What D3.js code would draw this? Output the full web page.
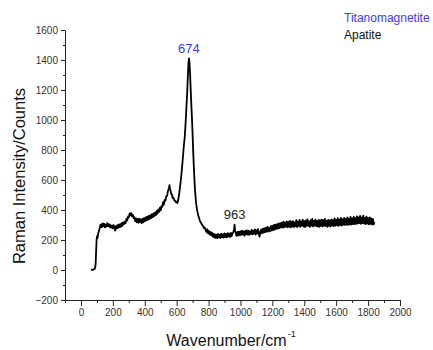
<!DOCTYPE html>
<html>
<head>
<meta charset="utf-8">
<script src="https://cdn.jsdelivr.net/npm/d3@7/dist/d3.min.js"></script>
<style>
  body { margin: 0; background: #fff; }
  svg { font-family: "Liberation Sans", Arial, sans-serif; }
</style>
</head>
<body>
<div id="chart"></div>
<script>
// ------------------------------------------------------------
// Data: [wavenumber (cm-1), counts]
// ------------------------------------------------------------
const spectrum = [
  [63,5],[68,2],[73,0],[78,3],[83,6],[88,10],[92,40],[95,120],[98,200],[101,225],
  [104,212],[107,238],[110,250],[114,265],[118,280],[122,300],[126,285],[130,305],[134,288],[138,310],
  [142,292],[146,308],[150,284],[155,302],[160,290],[165,312],[170,292],[175,306],[180,286],[185,300],
  [190,282],[195,296],[200,278],[205,300],[210,286],[214,262],[218,290],[222,276],[226,298],[230,280],
  [235,302],[240,284],[245,306],[250,288],[255,312],[260,294],[265,318],[270,306],[275,322],[280,312],
  [285,340],[290,330],[295,358],[300,350],[305,376],[310,364],[315,380],[320,358],[325,368],[330,346],
  [335,352],[340,326],[345,344],[350,318],[355,340],[360,314],[365,342],[370,320],[375,338],[380,312],
  [385,340],[390,318],[395,346],[400,324],[405,350],[410,330],[415,356],[420,334],[425,360],[430,340],
  [435,366],[440,346],[445,372],[450,352],[455,378],[460,360],[465,384],[470,366],[475,394],[480,376],
  [485,404],[490,388],[495,416],[500,398],[505,426],[510,422],[515,452],[520,436],[525,468],[530,462],
  [535,492],[540,494],[545,526],[550,540],[555,565],[558,542],[562,528],[566,506],[570,504],[575,480],
  [580,482],[585,464],[590,462],[595,452],[600,456],[605,446],[610,472],[615,500],[620,545],[625,590],
  [630,640],[635,700],[640,760],[645,830],[650,880],[655,960],[660,1060],[665,1160],[670,1290],[674,1380],
  [677,1410],[680,1390],[684,1310],[688,1200],[692,1100],[696,1010],[700,900],[704,780],[708,680],[712,590],
  [716,520],[720,465],[725,420],[730,390],[735,365],[740,348],[745,330],[750,318],[755,310],[760,300],
  [765,294],[770,280],[775,284],[780,270],[785,255],[790,272],[795,246],[800,262],[805,238],[810,254],
  [815,232],[820,250],[825,222],[830,242],[835,216],[840,238],[845,214],[850,236],[855,212],[860,240],
  [865,216],[870,236],[875,214],[880,242],[885,218],[890,238],[895,216],[900,244],[905,220],[910,240],
  [915,218],[920,246],[925,224],[930,242],[935,220],[940,248],[945,226],[950,244],[955,250],[960,272],
  [963,302],[966,262],[970,250],[975,228],[980,254],[985,230],[990,256],[995,232],[1000,258],[1005,234],
  [1010,262],[1015,236],[1020,258],[1025,230],[1030,260],[1035,238],[1040,264],[1045,236],[1050,262],[1055,234],
  [1060,258],[1065,240],[1070,268],[1075,238],[1080,262],[1085,242],[1090,270],[1095,236],[1100,264],[1105,244],
  [1110,272],[1115,240],[1120,222],[1125,256],[1130,270],[1135,244],[1140,276],[1145,250],[1150,278],[1155,252],
  [1160,282],[1165,256],[1170,288],[1175,256],[1180,280],[1185,260],[1190,292],[1195,262],[1200,294],[1205,266],
  [1210,300],[1215,270],[1220,302],[1225,274],[1230,306],[1235,276],[1240,310],[1245,280],[1250,312],[1255,284],
  [1260,316],[1265,282],[1270,322],[1275,286],[1280,316],[1285,290],[1290,324],[1295,284],[1300,320],[1305,288],
  [1310,328],[1315,284],[1320,322],[1325,290],[1330,326],[1335,286],[1340,318],[1345,292],[1350,332],[1355,286],
  [1360,322],[1365,294],[1370,334],[1375,288],[1380,324],[1385,296],[1390,336],[1395,290],[1400,326],[1405,286],
  [1410,330],[1415,294],[1420,338],[1425,294],[1430,324],[1435,288],[1440,332],[1445,296],[1450,340],[1455,290],
  [1460,328],[1465,296],[1470,336],[1475,292],[1480,326],[1485,290],[1490,334],[1495,288],[1500,330],[1505,294],
  [1510,336],[1515,290],[1520,332],[1525,296],[1530,340],[1535,292],[1540,328],[1545,288],[1550,334],[1555,294],
  [1560,330],[1565,290],[1570,338],[1575,296],[1580,332],[1585,292],[1590,344],[1595,296],[1600,334],[1605,298],
  [1610,346],[1615,294],[1620,336],[1625,300],[1630,348],[1635,296],[1640,338],[1645,302],[1650,348],[1655,300],
  [1660,340],[1665,302],[1670,350],[1675,300],[1680,342],[1685,304],[1690,354],[1695,302],[1700,344],[1705,306],
  [1710,354],[1715,306],[1720,346],[1725,308],[1730,358],[1735,310],[1740,350],[1745,312],[1750,360],[1755,308],
  [1760,350],[1765,312],[1770,362],[1775,310],[1780,348],[1785,306],[1790,356],[1795,310],[1800,346],[1805,304],
  [1810,350],[1815,308],[1820,344],[1825,302],[1830,340],[1835,304],[1840,318]
];

// peak annotations: [wavenumber, counts, label, colour]
const peaks = [
  [676, 1410, "674", "#3b3bf0"],
  [963, 302, "963", "#222"]
];

const legendItems = [
  ["Titanomagnetite", "#3b3bf0"],
  ["Apatite", "#111"]
];

const xTicks = [0, 200, 400, 600, 800, 1000, 1200, 1400, 1600, 1800, 2000];
const yTicks = [-200, 0, 200, 400, 600, 800, 1000, 1200, 1400, 1600];

// ------------------------------------------------------------
// Layout
// ------------------------------------------------------------
const width = 433;
const height = 350;
const font = "'Liberation Sans', Arial, sans-serif";

const svg = d3.select("#chart")
  .append("svg")
  .attr("width", width)
  .attr("height", height)
  .attr("font-family", font);

const x = d3.scaleLinear().domain([-100, 2000]).range([65, 400]);
const y = d3.scaleLinear().domain([-200, 1600]).range([300, 30]);

// minor ticks every 100
const xMinor = d3.range(-100, 2001, 100).filter(v => !xTicks.includes(v));
const yMinor = d3.range(-100, 1600, 200);

// ------------------------------------------------------------
// Axes
// ------------------------------------------------------------
svg.append("g")
  .attr("transform", `translate(0,${y(-200)})`)
  .call(d3.axisBottom(x).tickValues(xTicks).tickFormat(d3.format("d"))
    .tickSize(6).tickPadding(3).tickSizeOuter(0));

svg.append("g")
  .attr("transform", `translate(0,${y(-200)})`)
  .call(d3.axisBottom(x).tickValues(xMinor).tickSize(3).tickFormat("").tickSizeOuter(0))
  .select(".domain").remove();

svg.append("g")
  .attr("transform", `translate(${x(-100)},0)`)
  .call(d3.axisLeft(y).tickValues(yTicks).tickFormat(d3.format("d"))
    .tickSize(4).tickPadding(3).tickSizeOuter(0));

svg.append("g")
  .attr("transform", `translate(${x(-100)},0)`)
  .call(d3.axisLeft(y).tickValues(yMinor).tickSize(2).tickFormat("").tickSizeOuter(0))
  .select(".domain").remove();

svg.selectAll("g").attr("font-family", font);
svg.selectAll(".tick text")
  .attr("font-size", 10)
  .attr("fill", "#333");
svg.selectAll(".domain, .tick line").attr("stroke", "#222");

// axis titles
svg.append("text")
  .attr("x", 231)
  .attr("y", 346)
  .attr("text-anchor", "middle")
  .attr("font-size", 16)
  .attr("fill", "#111")
  .text("Wavenumber/cm")
  .append("tspan")
  .attr("font-size", 9)
  .attr("dx", 1)
  .attr("dy", -9)
  .text("-1");

svg.append("text")
  .attr("transform", "translate(25,176) rotate(-90)")
  .attr("text-anchor", "middle")
  .attr("font-size", 16.5)
  .attr("fill", "#111")
  .text("Raman Intensity/Counts");

// ------------------------------------------------------------
// Spectrum line
// ------------------------------------------------------------
const line = d3.line()
  .x(d => x(d[0]))
  .y(d => y(d[1]));

svg.append("path")
  .datum(spectrum)
  .attr("fill", "none")
  .attr("stroke", "#000")
  .attr("stroke-width", 1.8)
  .attr("stroke-linejoin", "round")
  .attr("d", line);

// peak labels
svg.selectAll("text.peak")
  .data(peaks)
  .enter()
  .append("text")
  .attr("class", "peak")
  .attr("x", d => x(d[0]))
  .attr("y", d => y(d[1]) - 6)
  .attr("text-anchor", "middle")
  .attr("font-size", 13)
  .attr("fill", d => d[3])
  .text(d => d[2]);

// legend text (no symbols in the original)
svg.selectAll("text.legend")
  .data(legendItems)
  .enter()
  .append("text")
  .attr("class", "legend")
  .attr("x", 344)
  .attr("y", (d, i) => 22 + i * 17)
  .attr("font-size", 12)
  .attr("fill", d => d[1])
  .text(d => d[0]);
</script>
</body>
</html>
